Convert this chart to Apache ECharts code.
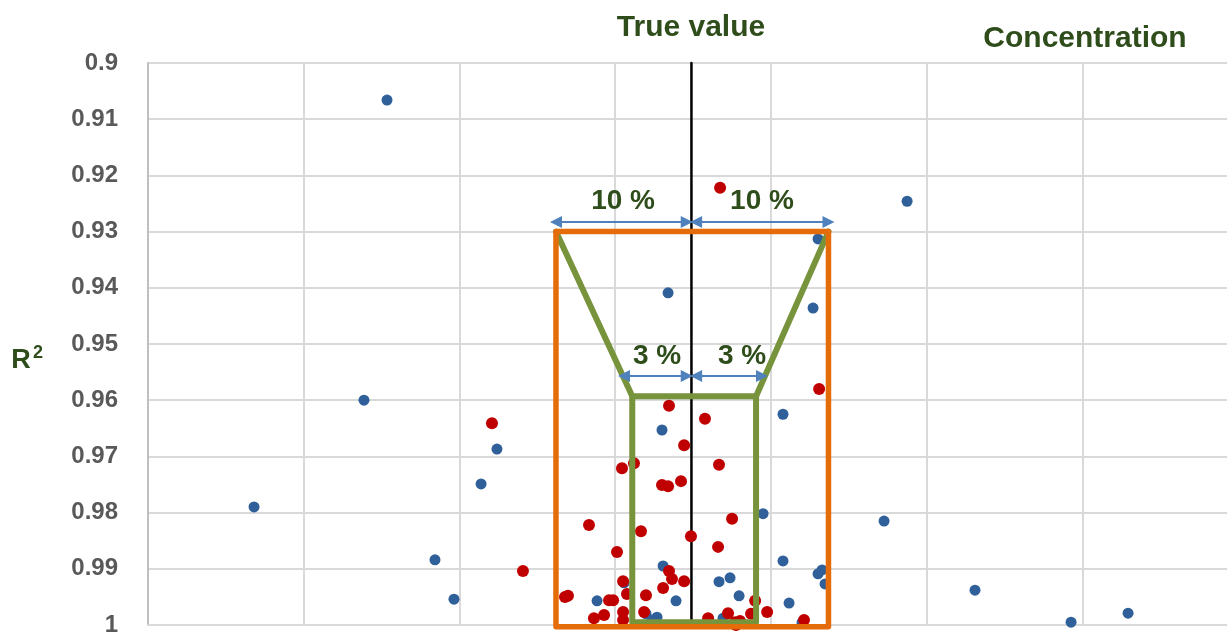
<!DOCTYPE html>
<html><head><meta charset="utf-8">
<script src="https://cdn.jsdelivr.net/npm/echarts@6/dist/echarts.min.js"></script>
<style>html,body{margin:0;padding:0;background:#fff}#c{width:1227px;height:635px}</style>
</head><body><div id="c"></div>
<script>
// ---- data (x: concentration in grid units, y: R²) ----
const bluePoints = [
  [1.535,0.9066],[0.681,0.9790],[1.387,0.9600],[1.843,0.9884],[2.241,0.9687],[2.139,0.9749],
  [1.965,0.9954],[4.875,0.9246],[4.727,0.9815],[5.311,0.9938],[5.928,0.9995],[6.294,0.9979],
  [3.340,0.9409],[4.303,0.9313],[4.271,0.9436],[4.078,0.9625],[3.301,0.9653],[3.950,0.9802],
  [4.078,0.9886],[4.303,0.9909],[4.329,0.9902],[4.348,0.9927],[3.308,0.9895],[3.667,0.9923],
  [3.738,0.9916],[3.057,0.9925],[2.884,0.9957],[3.391,0.9957],[3.796,0.9948],[4.117,0.9961],
  [3.198,0.9980],[3.269,0.9986],[3.237,0.9991],[3.693,0.9988],[4.200,0.9996]
];
const redPoints = [
  [3.674,0.9222],[4.310,0.9580],[2.209,0.9641],[2.408,0.9904],[3.346,0.9610],[3.577,0.9633],
  [3.443,0.9680],[3.121,0.9712],[3.044,0.9721],[3.667,0.9715],[3.301,0.9751],[3.340,0.9753],
  [3.423,0.9744],[3.751,0.9811],[2.832,0.9822],[3.166,0.9833],[3.487,0.9842],[3.661,0.9861],
  [3.012,0.9870],[3.346,0.9904],[3.365,0.9918],[3.443,0.9922],[3.051,0.9922],[3.308,0.9934],
  [3.076,0.9945],[3.198,0.9947],[2.697,0.9948],[2.678,0.9950],[2.961,0.9956],[2.987,0.9956],
  [3.899,0.9957],[2.864,0.9988],[2.929,0.9982],[3.051,0.9977],[3.051,0.9991],[3.186,0.9977],
  [3.597,0.9988],[3.725,0.9979],[3.802,0.9993],[3.770,0.9995],[3.873,0.9980],[3.976,0.9977],
  [4.213,0.9991],[3.776,1.0000]
];
const yRange = [0.9, 1.0];
const yStep = 0.01;
const xRange = [0, 7];
const xStep = 1;
const trueValue = 3.49;
const outerX = [2.62, 4.37];      // ±10 % band
const outerY = [0.93, 1.0003];
const innerX = [3.11, 3.905];     // ±3 % band
const innerY = [0.9593, 0.9995];
const arrow10Y = 0.9283;
const arrow3Y = 0.9557;
const annoLabels = [
  {name:'10 %', value:[3.051,0.9246]},
  {name:'10 %', value:[3.943,0.9246]},
  {name:'3 %',  value:[3.269,0.9521]},
  {name:'3 %',  value:[3.815,0.9521]}
];

// ---- chart ----
const chart = echarts.init(document.getElementById('c'), null, {renderer:'canvas'});
const green = '#77933c', orange = '#e46c0a', arrowBlue = '#4f81bd', textGreen = '#2e4d1b';
const funnel = [
  [outerX[0], outerY[0]], [innerX[0], innerY[0]], [innerX[0], innerY[1]], [innerX[1], innerY[1]],
  [innerX[1], innerY[0]], [outerX[1], outerY[0]]
];
const innerTopLine = [[innerX[0], innerY[0]], [innerX[1], innerY[0]]];
const box = [[outerX[0], outerY[1]], [outerX[0], outerY[0]], [outerX[1], outerY[0]], [outerX[1], outerY[1]], [outerX[0], outerY[1]]];
const lineSeries = (data, color, width, z) => ({
  type:'line', data, showSymbol:false, symbol:'none', clip:false, z, silent:true,
  lineStyle:{color, width, join:'round', cap:'round'}, animation:false
});
const FONT = '"Liberation Sans", Arial, sans-serif';
chart.setOption({
  animation:false,
  grid:{left:148, top:63, right:-11, bottom:10, containLabel:false, outerBoundsMode:'none'},
  xAxis:{type:'value', min:xRange[0], max:xRange[1], interval:xStep,
    axisLabel:{show:false}, axisTick:{show:false},
    axisLine:{show:true, lineStyle:{color:'#d9d9d9', width:2}},
    splitLine:{show:true, lineStyle:{color:'#d9d9d9', width:2}}},
  yAxis:{type:'value', inverse:true, min:yRange[0], max:yRange[1], interval:yStep,
    axisTick:{show:false},
    axisLine:{show:true, lineStyle:{color:'#bfbfbf', width:2}},
    splitLine:{show:true, lineStyle:{color:'#d9d9d9', width:2}},
    axisLabel:{color:'#595959', fontSize:24, fontWeight:'bold', fontFamily:'Liberation Sans, Arial, sans-serif', margin:30}},
  graphic:[
    {type:'text', style:{text:'True value', x:691, y:28, align:'center', verticalAlign:'middle',
      font:'bold 30px ' + FONT, fill:textGreen}, z:10},
    {type:'text', style:{text:'Concentration', x:1085, y:39, align:'center', verticalAlign:'middle',
      font:'bold 30px ' + FONT, fill:textGreen}, z:10},
    {type:'text', style:{text:'R', x:21, y:361, align:'center', verticalAlign:'middle',
      font:'bold 27px ' + FONT, fill:textGreen}, z:10},
    {type:'text', style:{text:'2', x:38, y:353, align:'center', verticalAlign:'middle',
      font:'bold 18px ' + FONT, fill:textGreen}, z:10}
  ],
  series:[
    lineSeries([[trueValue, yRange[0]], [trueValue, yRange[1]]], '#000000', 2.5, 1),
    {type:'scatter', data:bluePoints, symbolSize:11, itemStyle:{color:'#30609a', opacity:1}, z:3, silent:true},
    {type:'scatter', data:redPoints, symbolSize:12, itemStyle:{color:'#c00000', opacity:1}, z:3, silent:true},
    lineSeries(funnel, green, 6, 4),
    lineSeries(innerTopLine, green, 6, 4),
    lineSeries(box, orange, 5.5, 5),
    {type:'lines', coordinateSystem:'cartesian2d', z:6, silent:true,
      symbol:['triangle','triangle'], symbolSize:[12,12],
      lineStyle:{color:arrowBlue, width:2, opacity:1, curveness:0},
      data:[
        {coords:[[outerX[0], arrow10Y], [trueValue-0.03, arrow10Y]]},
        {coords:[[trueValue+0.03, arrow10Y], [outerX[1], arrow10Y]]},
        {coords:[[3.057, arrow3Y], [trueValue-0.03, arrow3Y]]},
        {coords:[[trueValue+0.03, arrow3Y], [3.943, arrow3Y]]}
      ]},
    {type:'scatter', data:annoLabels, symbolSize:1, itemStyle:{color:'rgba(0,0,0,0)', opacity:1}, z:7, silent:true,
      label:{show:true, position:'inside', formatter:p=>p.name, color:textGreen, opacity:1,
        fontSize:28, fontWeight:'bold', fontFamily:'Liberation Sans, Arial, sans-serif'}}
  ]
});
</script></body></html>
